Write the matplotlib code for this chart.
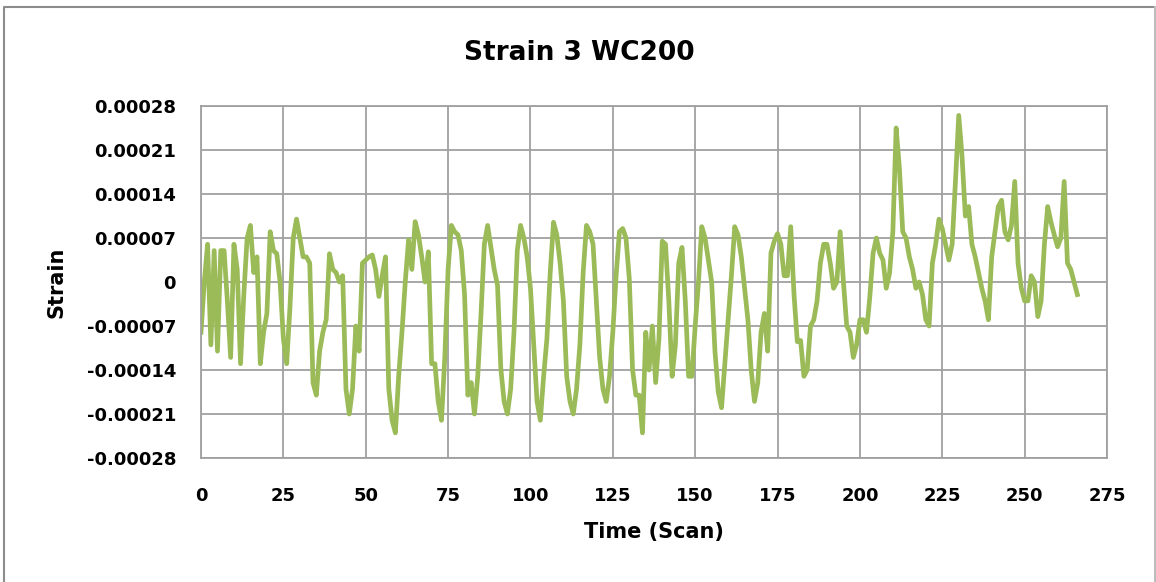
import numpy as np
import matplotlib
matplotlib.use('Agg')
import matplotlib.pyplot as plt
from matplotlib.lines import Line2D

# strain values, in units of 1e-5, one per scan (0..266)
strain_e5 = [
    -8, 0, 6, -10, 5, -11, 5, 5, -3, -12,
    6, 2, -13, -2, 7, 9, 1.5, 4, -13, -8,
    -5, 8, 5, 4.5, 0, -9, -13, -4, 7, 10,
    7, 4, 4, 3, -16, -18, -11, -8, -6, 4.5,
    2, 1.5, 0, 1, -17, -21, -17, -7, -11, 3,
    3.5, 4, 4.3, 2, -2.3, 1, 4, -17, -22, -24,
    -15, -8, 0, 6.7, 2, 9.6, 7.5, 4, 0, 4.8,
    -13, -13, -19, -22, -12, 2, 9, 8, 7.5, 5,
    -2, -18, -16, -21, -15, -5, 6, 9, 5.5, 2,
    -0.5, -13.7, -19, -21, -17, -8, 5, 9, 7, 4,
    -1, -10, -19, -22, -15, -9, 1.5, 9.5, 7.5, 3,
    -3, -15, -19, -21, -17, -10, 1.5, 9, 8, 6,
    -3, -12, -17, -19, -15, -8, 1, 8, 8.5, 7,
    0.5, -14, -18, -18, -24, -8, -14, -7, -16, -9,
    6.5, 6, -3, -15, -10, 3, 5.5, -3, -15, -15,
    -7, 0, 8.8, 7, 3.5, 0, -11, -17.5, -20, -13,
    -6, 1, 8.8, 7.5, 4, -1, -6, -14, -19, -16,
    -8, -5, -11, 4.6, 6.5, 7.7, 6, 1, 1, 8.8,
    -2, -9.5, -9.3, -15, -14, -7, -6, -3, 3, 6,
    6, 3, -1, 0, 8, 0, -7, -8, -12, -10,
    -6, -6, -8, -2.4, 4.6, 7, 4.6, 3.5, -1, 1.4,
    8, 24.5, 18, 8, 7, 4, 2, -1, 0, -2,
    -6, -7, 3, 6, 10, 8.5, 6, 3.5, 6, 16,
    26.5, 20, 10.5, 12, 6, 4, 1.5, -1, -3, -6,
    4, 8, 12, 13, 8, 6.7, 9, 16, 3, -1,
    -3, -3, 1, 0, -5.5, -3, 6, 12, 9.5, 7.5,
    5.6, 7, 16, 3, 2, 0, -2,
]
scan = np.arange(len(strain_e5))
strain = np.array(strain_e5) * 1e-5

y_ticks = [0.00028, 0.00021, 0.00014, 0.00007, 0, -0.00007, -0.00014, -0.00021, -0.00028]
y_tick_labels = ['0.00028', '0.00021', '0.00014', '0.00007', '0',
                 '-0.00007', '-0.00014', '-0.00021', '-0.00028']
x_ticks = list(range(0, 276, 25))

plt.rcParams['font.family'] = ['DejaVu Sans']

W, H = 1156, 582
fig = plt.figure(figsize=(W / 100, H / 100), dpi=100)

# chart border (bottom edge is cut off in the screenshot)
fig.lines.append(Line2D([3.5 / W, 3.5 / W, 1154.5 / W], [0, 1 - 7 / H, 1 - 7 / H],
                        transform=fig.transFigure, color='#8C8C8C', linewidth=1.5))
fig.lines.append(Line2D([1154.5 / W, 1154.5 / W], [1 - 7 / H, 0],
                        transform=fig.transFigure, color='#BDBDBD', linewidth=1.5))

ax = fig.add_axes([201 / W, 1 - 458 / H, 906 / W, 352 / H])
ax.plot(scan, strain, color='#9BBB59', linewidth=3.4, solid_joinstyle='round')

ax.set_xlim(0, 275)
ax.set_ylim(-0.00028, 0.00028)
ax.set_xticks(x_ticks)
ax.set_yticks(y_ticks)
ax.set_yticklabels(y_tick_labels)
ax.grid(True, color='#A0A0A0', linewidth=1.3)
ax.set_axisbelow(True)
for s in ax.spines.values():
    s.set_color('#A0A0A0')
    s.set_linewidth(1.3)
ax.tick_params(length=0, labelsize=13)
ax.tick_params(axis='y', pad=18)
ax.tick_params(axis='x', pad=21)
for lab in ax.get_xticklabels() + ax.get_yticklabels():
    lab.set_fontweight('bold')

# title and axis titles placed like the Excel chart
fig.text(579 / W, 1 - 53 / H, 'Strain 3 WC200', fontsize=19, fontweight='bold',
         ha='center', va='center')
fig.text(654 / W, 1 - 532 / H, 'Time (Scan)', fontsize=15, fontweight='bold',
         ha='center', va='center')
fig.text(56 / W, 1 - 282 / H, 'Strain', fontsize=15, fontweight='bold',
         ha='center', va='center', rotation=90)

fig.savefig('out.png', dpi=100)
